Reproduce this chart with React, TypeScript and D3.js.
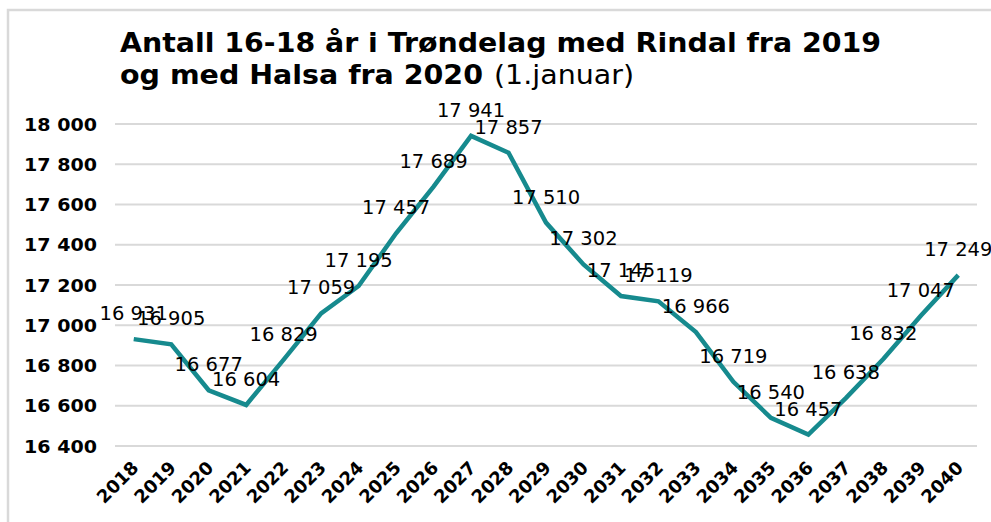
import React from "react";
import * as d3 from "d3";

const years = ["2018","2019","2020","2021","2022","2023","2024","2025","2026","2027","2028","2029","2030","2031","2032","2033","2034","2035","2036","2037","2038","2039","2040"];
const values = [16931,16905,16677,16604,16829,17059,17195,17457,17689,17941,17857,17510,17302,17145,17119,16966,16719,16540,16457,16638,16832,17047,17249];
const yTicks = [16400,16600,16800,17000,17200,17400,17600,17800,18000];
const titleLine1 = "Antall 16-18 år i Trøndelag med Rindal fra 2019";
const titleLine2Bold = "og med Halsa fra 2020";
const titleLine2Normal = "(1.januar)";

const W = 991, H = 522;
const FONT = "'DejaVu Sans', Verdana, sans-serif";
const LINE_COLOR = "#168a8e";

export default function App() {
  const x = d3.scaleBand<string>().domain(years).range([115, 977]);
  const y = d3.scaleLinear().domain([16400, 18000]).range([446, 124]);
  const fmt = d3.formatLocale({ decimal: ",", thousands: " ", grouping: [3], currency: ["", ""] }).format(",d");
  const cx = (d: string) => (x(d) as number) + x.bandwidth() / 2;
  const line = d3.line<number>().x((_, i) => cx(years[i])).y((v) => y(v));

  return (
    <svg width={W} height={H} style={{ position: "absolute", left: 0, top: 0, background: "#fff" }} fontFamily={FONT}>
      <rect x={0} y={0} width={W} height={H} fill="#fff" />
      <path d={`M8,${H} V10 H${W}`} fill="none" stroke="#d9d9d9" strokeWidth={2.5} />
      <text x={120} y={52} fontSize={26} fontWeight="bold" fill="#000" textLength={761} lengthAdjust="spacingAndGlyphs">{titleLine1}</text>
      <text x={120} y={84} fontSize={26} fontWeight="bold" fill="#000" textLength={363} lengthAdjust="spacingAndGlyphs">{titleLine2Bold}</text>
      <text x={494} y={84} fontSize={26} fill="#000" textLength={140} lengthAdjust="spacingAndGlyphs">{titleLine2Normal}</text>
      {yTicks.map((t) => (
        <g key={t}>
          <line x1={115} x2={977} y1={y(t)} y2={y(t)} stroke="#d9d9d9" strokeWidth={2} />
          <text x={97} y={y(t)} dy="0.36em" textAnchor="end" fontSize={18.5} fontWeight="bold" fill="#000" textLength={73} lengthAdjust="spacingAndGlyphs">{fmt(t)}</text>
        </g>
      ))}
      {years.map((yr) => (
        <text key={yr} transform={`translate(${cx(yr) + 6},${469}) rotate(-45)`} textAnchor="end" fontSize={18} fontWeight="bold" fill="#000">{yr}</text>
      ))}
      <path d={line(values) || ""} fill="none" stroke={LINE_COLOR} strokeWidth={4.5} strokeLinejoin="miter" />
      {values.map((v, i) => (
        <text key={i} x={cx(years[i])} y={y(v) - 19} textAnchor="middle" fontSize={19.5} fill="#000">{fmt(v)}</text>
      ))}
    </svg>
  );
}
